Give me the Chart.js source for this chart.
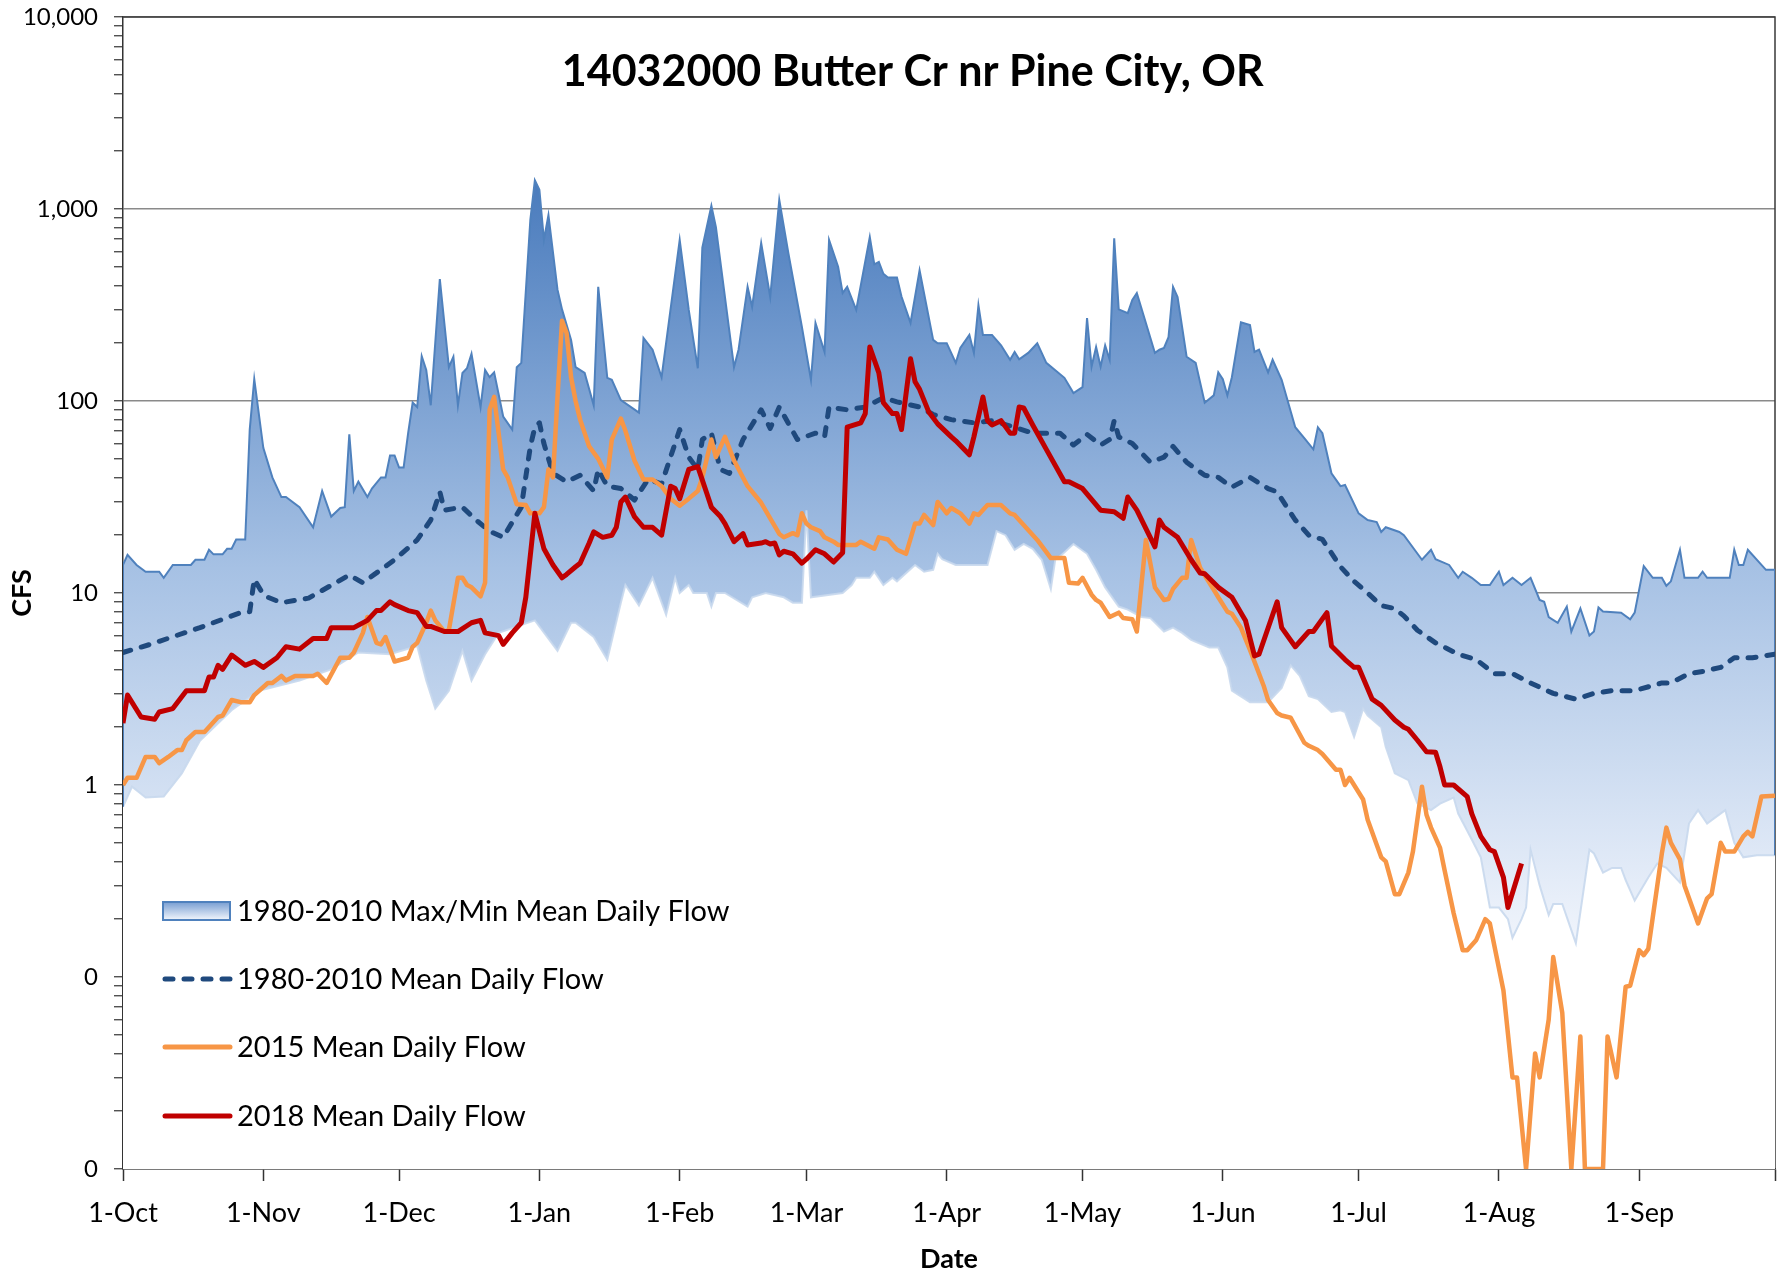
<!DOCTYPE html>
<html>
<head>
<meta charset="utf-8">
<title>14032000 Butter Cr nr Pine City, OR</title>
<script src="https://cdn.jsdelivr.net/npm/chart.js@4.4.1/dist/chart.umd.min.js"></script>
<style>
  html, body { margin: 0; padding: 0; background: #fff; }
  #wrap { width: 1784px; height: 1273px; }
</style>
</head>
<body>
<div id="wrap"><canvas id="flowChart" width="1784" height="1273"></canvas></div>
<script>
// x values are water-year days (0 = 1-Oct), y values are CFS
const chartTitle = '14032000 Butter Cr nr Pine City, OR';

const monthDays = [0, 31, 61, 92, 123, 151, 182, 212, 243, 273, 304, 335, 365];
const monthLabels = ['1-Oct', '1-Nov', '1-Dec', '1-Jan', '1-Feb', '1-Mar', '1-Apr', '1-May', '1-Jun', '1-Jul', '1-Aug', '1-Sep', ''];

const yDecades = [0.01, 0.1, 1, 10, 100, 1000, 10000];
const yDecadeLabels = ['0', '0', '1', '10', '100', '1,000', '10,000'];

const seriesNames = [
  '1980-2010 Max/Min Mean Daily Flow',
  '1980-2010 Mean Daily Flow',
  '2015 Mean Daily Flow',
  '2018 Mean Daily Flow'
];

// 1980-2010 max of mean daily flow
const maxFlow = [[0,14],[1,15.8],[3,14],[5,12.9],[8,12.9],[9,12],[11,14],[15,14],[16,14.9],[18,14.9],[19,16.8],[20,15.9],[22,15.9],[23,17],[24,17],[25,19],[27,19],[28,71],[29,130],[31,57],[33,40],[35,31.6],[36,31.6],[39,28],[42,22],[44,34],[46,25],[48,27.7],[49,28],[50,67],[51,34],[52,38],[54,31.6],[55,35],[57,40],[58,40],[59,52],[60,52],[61,45],[62,45],[63,68],[64,98],[65,93],[66,171],[67,145],[68,95],[70,431],[72,150],[73,170],[74,95],[75,140],[76,148],[77,176],[79,93],[80,145],[81,133],[82,141],[84,83],[86,71],[87,150],[88,158],[90,877],[91,1410],[92,1260],[93,690],[94,930],[96,380],[97,300],[99,208],[100,150],[102,140],[104,95],[105,393],[107,132],[108,129],[110,101],[114,87],[115,213],[117,185],[119,133],[123,690],[125,298],[127,148],[128,630],[130,1040],[131,805],[135,150],[136,185],[138,393],[139,309],[141,665],[143,348],[145,1115],[147,590],[150,243],[152,129],[153,255],[155,180],[156,690],[158,500],[159,365],[160,393],[162,298],[165,715],[166,515],[167,530],[168,460],[169,440],[171,440],[172,350],[174,255],[176,480],[179,208],[180,200],[182,200],[184,158],[185,189],[187,221],[188,178],[189,316],[190,221],[192,221],[194,195],[196,164],[197,180],[198,165],[200,178],[202,200],[204,158],[208,132],[210,110],[212,118],[213,270],[214,151],[215,191],[216,151],[217,195],[218,164],[219,703],[220,300],[222,287],[223,336],[224,365],[226,255],[228,178],[229,185],[230,189],[231,215],[232,393],[233,348],[235,170],[237,158],[239,98],[241,107],[242,141],[243,130],[244,107],[245,133],[247,257],[249,249],[250,180],[251,185],[253,141],[254,164],[256,129],[259,73],[261,64],[263,56],[264,73],[265,68],[267,42],[269,36],[270,36.5],[273,26],[275,24],[277,23.4],[278,20.8],[279,22],[282,20.8],[283,20],[287,14.9],[289,16.8],[290,15],[293,14],[295,12],[296,12.9],[298,12],[300,11],[302,11],[304,12.9],[305,11],[307,12],[309,11],[311,12],[313,9.2],[314,9],[315,7.5],[317,7],[319,8.5],[320,6.3],[322,8.3],[324,6],[325,6.3],[326,8.4],[327,8],[331,7.9],[333,7.3],[334,7.9],[336,13.8],[338,12],[340,12],[341,10.9],[342,11.5],[344,16.8],[345,12],[348,12],[349,12.9],[350,12],[355,12],[356,16.8],[357,14],[358,14],[359,16.8],[363,13.2],[365,13.2]];

// 1980-2010 min of mean daily flow
const minFlow = [[0,0.77],[2,0.98],[5,0.86],[9,0.87],[13,1.15],[17,1.7],[24,2.45],[30,3.1],[39,3.5],[46,4],[52,4.9],[59,4.8],[65,5.3],[67,3.5],[69,2.5],[72,3.1],[75,5],[77,3.5],[80,4.8],[83,6.2],[91,7.2],[96,5],[99,7],[100,7],[104,5.9],[107,4.5],[110,8.9],[111,11],[114,8.6],[117,12],[120,7.7],[122,12],[123,10],[125,11],[126,10],[129,10],[130,8.5],[131,10],[133,10],[138,8.5],[139,9.5],[142,10],[146,9.5],[148,8.9],[150,8.9],[151,27],[152,9.5],[159,10],[161,11],[162,12],[165,12],[166,12.9],[168,11],[170,12],[171,11.5],[175,14],[177,12.9],[179,13.2],[180,16],[181,15],[184,14],[191,14],[193,21],[195,20],[197,16.8],[199,18],[201,17],[203,14.9],[205,10.5],[206,15],[207,15.5],[210,18],[213,16],[215,13.2],[217,10.7],[220,8.5],[222,8.2],[225,7.5],[227,7.4],[230,6.3],[232,6.6],[234,6.2],[236,5.7],[240,5.2],[242,5.2],[244,4.1],[245,3.1],[249,2.7],[253,2.7],[256,3.2],[258,4.2],[260,3.7],[262,2.9],[264,2.8],[267,2.4],[269,2.45],[270,2.4],[272,1.78],[274,2.5],[275,2.3],[278,2],[279,1.58],[281,1.15],[284,1.06],[286,0.8],[289,0.74],[291,0.8],[294,0.86],[295,0.71],[298,0.52],[300,0.42],[302,0.23],[304,0.23],[306,0.2],[307,0.16],[309,0.2],[310,0.23],[311,0.46],[313,0.3],[315,0.21],[316,0.24],[318,0.24],[321,0.15],[324,0.46],[325,0.44],[327,0.35],[329,0.37],[331,0.37],[332,0.32],[334,0.25],[337,0.33],[339,0.39],[341,0.37],[344,0.31],[346,0.63],[348,0.74],[350,0.63],[354,0.74],[356,0.5],[358,0.42],[361,0.43],[365,0.43]];

// 1980-2010 mean daily flow
const meanFlow = [[0,4.9],[6,5.4],[17,6.6],[26,7.9],[28,8],[29,11.8],[31,9.8],[32,9.5],[35,8.9],[41,9.4],[50,12.4],[53,11.3],[60,14.9],[65,18.9],[68,24],[70,33.6],[71,27],[75,28],[78,24],[81,21],[84,19.5],[88,28],[90,58],[91,73],[92,77],[93,60],[95,42],[98,38],[101,41],[104,34],[105,44],[107,36],[110,35],[113,30.5],[116,39],[119,37],[123,71],[125,51],[127,44],[128,63],[130,68],[132,44],[134,42],[137,63],[141,90],[143,72],[145,93],[149,63],[153,68],[155,65],[156,93],[160,90],[164,93],[168,104],[171,99],[176,93],[179,85],[183,80],[188,77],[192,79],[197,73],[201,68],[207,68],[210,59],[213,67],[216,59],[218,63],[219,79],[220,65],[223,60],[227,48],[230,51],[232,58],[235,48],[239,41],[242,40],[245,35.6],[249,40],[253,35],[255,33.6],[259,24],[262,20],[265,19],[269,13.7],[272,11.5],[275,10],[278,8.6],[281,8.3],[283,7.6],[286,6.4],[290,5.5],[295,4.8],[299,4.5],[303,3.8],[307,3.8],[311,3.4],[316,3.0],[321,2.8],[325,3.0],[329,3.1],[334,3.1],[340,3.4],[342,3.4],[346,3.8],[349,3.9],[353,4.1],[356,4.6],[360,4.6],[365,4.8]];

// water year 2015
const flow2015 = [[0,1.0],[1,1.09],[3,1.09],[5,1.4],[7,1.4],[8,1.3],[10,1.4],[12,1.52],[13,1.52],[14,1.71],[16,1.89],[18,1.89],[21,2.26],[22,2.3],[24,2.77],[26,2.7],[28,2.7],[29,2.94],[32,3.4],[33,3.4],[35,3.7],[36,3.5],[38,3.7],[42,3.7],[43,3.8],[45,3.4],[48,4.6],[50,4.6],[51,4.9],[53,6.2],[54,7.5],[56,5.5],[57,5.4],[58,5.9],[60,4.4],[63,4.6],[64,5.25],[65,5.5],[67,7.0],[68,8.1],[69,7.2],[71,6.3],[72,6.4],[74,12],[75,12],[76,11],[77,10.7],[79,9.6],[80,11.3],[81,90],[82,105],[84,44],[85,40],[87,29],[89,28.7],[90,26],[92,26],[93,28],[94,44],[95,40],[96,105],[97,262],[98,226],[99,133],[100,100],[101,80],[103,58],[105,50],[107,40],[108,63],[110,81],[111,70],[113,49],[115,39],[117,39],[119,36],[121,31],[123,28.5],[125,31],[127,34],[128,40],[130,63],[131,51],[133,65],[135,49],[138,36],[141,29.5],[143,24.5],[145,20.3],[146,19.5],[148,20.5],[149,20],[150,26],[151,23],[152,22],[154,21],[155,19.5],[157,18.5],[158,17.8],[162,17.8],[163,18.5],[166,17],[167,19.5],[169,19],[171,16.8],[173,16],[175,23],[176,23],[177,25.5],[179,22.6],[180,29.8],[182,26],[183,27.7],[185,26],[187,23],[188,26],[189,25.5],[191,28.7],[194,28.7],[196,26],[197,25.5],[199,22.6],[202,18.9],[205,15.2],[208,15.2],[209,11.3],[211,11.2],[212,12],[214,9.8],[215,9.2],[216,8.9],[218,7.5],[220,7.9],[221,7.4],[223,7.3],[224,6.3],[226,18.9],[228,10.7],[230,9.2],[231,9.3],[232,10.5],[234,12],[235,12],[236,18.9],[238,13.5],[241,10.4],[242,9.5],[244,8],[245,7.8],[247,6.6],[249,5.05],[252,3.3],[253,2.77],[255,2.37],[256,2.3],[258,2.24],[261,1.66],[262,1.6],[264,1.52],[265,1.45],[268,1.2],[269,1.2],[270,1.0],[271,1.09],[274,0.84],[275,0.66],[278,0.42],[279,0.4],[281,0.27],[282,0.27],[284,0.35],[285,0.45],[287,0.98],[288,0.7],[289,0.6],[291,0.47],[292,0.36],[294,0.215],[296,0.138],[297,0.138],[299,0.156],[301,0.2],[302,0.19],[305,0.085],[307,0.03],[308,0.03],[310,0.01],[312,0.04],[313,0.03],[315,0.06],[316,0.127],[318,0.065],[320,0.01],[322,0.049],[323,0.01],[327,0.01],[328,0.049],[330,0.03],[332,0.089],[333,0.09],[335,0.138],[336,0.13],[337,0.14],[338,0.205],[340,0.44],[341,0.6],[342,0.5],[344,0.41],[345,0.3],[348,0.19],[350,0.257],[351,0.27],[353,0.5],[354,0.45],[356,0.45],[358,0.54],[359,0.57],[360,0.54],[362,0.87],[365,0.88]];

// water year 2018 (record ends early August)
const flow2018 = [[0,2.1],[1,2.94],[4,2.26],[7,2.2],[8,2.4],[11,2.5],[14,3.1],[16,3.1],[18,3.1],[19,3.65],[20,3.65],[21,4.2],[22,4.0],[24,4.75],[27,4.2],[29,4.4],[31,4.1],[34,4.6],[36,5.25],[39,5.1],[42,5.8],[45,5.8],[46,6.6],[48,6.6],[51,6.6],[54,7.2],[56,8.1],[57,8.1],[59,9.0],[60,8.7],[63,8.1],[65,7.9],[67,6.7],[68,6.7],[71,6.3],[74,6.3],[77,7.0],[79,7.2],[80,6.2],[83,6.0],[84,5.4],[86,6.2],[88,7.0],[89,9.5],[91,26],[93,17],[95,14],[97,12],[98,12.5],[100,13.7],[101,14.3],[103,18.2],[104,20.8],[106,19.5],[108,20],[109,22],[110,29.8],[111,31.6],[113,25],[115,22],[117,22],[119,20],[121,36],[122,35],[123,31],[125,44],[127,45.5],[129,33],[130,28],[132,25],[133,23],[135,18.5],[137,20.4],[138,17.8],[141,18.2],[142,18.5],[143,18],[144,18.2],[145,15.8],[146,16.5],[148,16],[150,14.3],[151,15],[153,16.8],[155,16],[157,14.5],[159,16.2],[160,73],[163,77],[164,86],[165,191],[167,140],[168,98],[170,86],[171,86],[172,71],[174,166],[175,126],[176,115],[178,88],[180,76],[183,65],[184,62],[187,52.5],[188,65],[190,105],[191,79],[192,75],[194,79],[196,68],[197,68],[198,93],[199,92],[201,75],[204,56],[208,38],[209,38],[212,35],[216,27],[219,26.5],[221,24.5],[222,31.6],[224,27],[228,17.4],[229,24],[230,22],[233,19.5],[236,14.9],[238,12.7],[239,12.6],[242,10.7],[245,9.5],[248,7.2],[250,4.7],[251,4.8],[255,9.0],[256,6.6],[259,5.25],[262,6.3],[263,6.3],[266,7.9],[267,5.3],[270,4.5],[272,4.1],[273,4.1],[276,2.8],[278,2.6],[281,2.18],[283,2.0],[284,1.95],[286,1.71],[288,1.49],[290,1.48],[291,1.24],[292,1.0],[294,1.0],[297,0.87],[298,0.71],[300,0.54],[302,0.46],[303,0.45],[305,0.33],[306,0.23],[309,0.39]];

const toPoints = (rows) => rows.map(([x, y]) => ({ x, y }));

// log-axis tick positions: 1..9 in every decade, labels only on the decades
const yTickValues = [];
for (let e = -2; e <= 3; e++) {
  for (let m = 1; m <= 9; m++) yTickValues.push(Number((m * Math.pow(10, e)).toPrecision(3)));
}
yTickValues.push(10000);

function decadeIndex(v) {
  return yDecades.findIndex(d => Math.abs(v - d) / d < 1e-6);
}

// the envelope's open ends are closed with short vertical edges
const firstMax = maxFlow[0], lastMax = maxFlow[maxFlow.length - 1];
const firstMin = minFlow[0], lastMin = minFlow[minFlow.length - 1];
const bandEdges = [
  { x: firstMax[0], y: firstMax[1] }, { x: firstMin[0], y: firstMin[1] },
  { x: 182, y: null },
  { x: lastMax[0], y: lastMax[1] }, { x: lastMin[0], y: lastMin[1] }
];

const BLUE = '#4f81bd';
const NAVY = '#1f497d';
const ORANGE = '#f79646';
const RED = '#c00000';
const FONT = 'Lato, "Open Sans", sans-serif';

function bandGradient(ctx, y0, y1) {
  const g = ctx.createLinearGradient(0, y0, 0, y1);
  g.addColorStop(0, 'rgb(72,122,188)');
  g.addColorStop(0.5, 'rgb(166,193,228)');
  g.addColorStop(1, 'rgb(244,247,253)');
  return g;
}

function bandFill(context) {
  const chart = context.chart;
  if (!chart.chartArea) return 'rgba(120,160,210,0.8)';
  const y = chart.scales.y;
  return bandGradient(chart.ctx, y.getPixelForValue(1500), y.getPixelForValue(0.12));
}

// top and right sides of the plot frame
const plotFrame = {
  id: 'plotFrame',
  beforeDatasetsDraw(chart) {
    const { ctx, chartArea: a } = chart;
    ctx.save();
    ctx.strokeStyle = '#3a3a3a';
    ctx.lineWidth = 1.5;
    ctx.beginPath();
    ctx.moveTo(a.left, a.top);
    ctx.lineTo(a.right, a.top);
    ctx.lineTo(a.right, a.bottom);
    ctx.stroke();
    ctx.restore();
  }
};

// title, axis titles and the legend box inside the plot
const chartText = {
  id: 'chartText',
  afterDraw(chart) {
    const { ctx, chartArea: a } = chart;
    const w = a.right - a.left;
    ctx.save();
    ctx.fillStyle = '#000';
    ctx.textBaseline = 'middle';

    ctx.textAlign = 'center';
    ctx.font = 'bold 43px ' + FONT;
    ctx.fillText(chartTitle, a.left + w * 0.478, 72);

    ctx.font = 'bold 27px ' + FONT;
    ctx.fillText('Date', a.left + w / 2, 1259);

    ctx.save();
    ctx.translate(22, 593);
    ctx.rotate(-Math.PI / 2);
    ctx.fillText('CFS', 0, 0);
    ctx.restore();

    // legend
    const sx = a.left + 40, sw = 67, tx = a.left + 114;
    const rows = [911, 979, 1047, 1116];
    ctx.textAlign = 'left';
    ctx.font = '29px ' + FONT;

    const g = ctx.createLinearGradient(0, rows[0] - 9, 0, rows[0] + 9);
    g.addColorStop(0, 'rgb(120,158,210)');
    g.addColorStop(1, 'rgb(242,246,252)');
    ctx.fillStyle = g;
    ctx.fillRect(sx, rows[0] - 9, sw, 18);
    ctx.strokeStyle = BLUE;
    ctx.lineWidth = 2;
    ctx.strokeRect(sx, rows[0] - 9, sw, 18);

    ctx.lineCap = 'round';
    ctx.lineWidth = 5;
    ctx.strokeStyle = NAVY;
    ctx.setLineDash([8, 11]);
    ctx.beginPath();
    ctx.moveTo(sx + 2, rows[1]);
    ctx.lineTo(sx + sw, rows[1]);
    ctx.stroke();
    ctx.setLineDash([]);

    [[ORANGE, rows[2]], [RED, rows[3]]].forEach(([c, y]) => {
      ctx.strokeStyle = c;
      ctx.beginPath();
      ctx.moveTo(sx + 2, y);
      ctx.lineTo(sx + sw, y);
      ctx.stroke();
    });

    ctx.fillStyle = '#000';
    seriesNames.forEach((name, i) => ctx.fillText(name, tx, rows[i] + 1));
    ctx.restore();
  }
};

function drawChart() {
  Chart.defaults.font.family = FONT;
  Chart.defaults.color = '#000';

  new Chart(document.getElementById('flowChart'), {
    type: 'line',
    data: {
      datasets: [
        {
          label: seriesNames[3], data: toPoints(flow2018), order: 1,
          borderColor: RED, borderWidth: 5, borderJoinStyle: 'round', fill: false
        },
        {
          label: seriesNames[2], data: toPoints(flow2015), order: 2,
          borderColor: ORANGE, borderWidth: 4.5, borderJoinStyle: 'round', fill: false
        },
        {
          label: seriesNames[1], data: toPoints(meanFlow), order: 3,
          borderColor: NAVY, borderWidth: 5, borderDash: [8, 11], borderCapStyle: 'round',
          borderJoinStyle: 'round', fill: false
        },
        {
          label: 'edges', data: bandEdges, order: 4,
          borderColor: BLUE, borderWidth: 2, fill: false, spanGaps: false
        },
        {
          label: 'min', data: toPoints(minFlow), order: 5,
          borderColor: 'rgba(200,216,237,0.9)', borderWidth: 2,
          backgroundColor: '#ffffff', fill: 'start'
        },
        {
          label: seriesNames[0], data: toPoints(maxFlow), order: 6,
          borderColor: BLUE, borderWidth: 2,
          backgroundColor: bandFill, fill: 'start'
        }
      ]
    },
    options: {
      responsive: false,
      animation: false,
      devicePixelRatio: 1,
      events: [],
      layout: { padding: { left: 0, top: 17, right: 9, bottom: 0 } },
      elements: { point: { radius: 0 }, line: { tension: 0 } },
      plugins: { legend: { display: false }, tooltip: { enabled: false }, title: { display: false } },
      scales: {
        x: {
          type: 'linear', min: 0, max: 365,
          afterBuildTicks: (scale) => { scale.ticks = monthDays.map(v => ({ value: v })); },
          afterFit: (scale) => {
            scale.height = 104;
            scale.paddingLeft = 0;
            scale.paddingRight = 0;
          },
          ticks: {
            autoSkip: false, maxRotation: 0, padding: 16,
            font: { size: 27 }, color: '#000',
            callback: (v) => { const i = monthDays.indexOf(v); return i < 0 ? '' : monthLabels[i]; }
          },
          grid: { drawOnChartArea: false, tickColor: '#333', tickLength: 12, tickWidth: 1.5 },
          border: { color: '#333', width: 1.5 }
        },
        y: {
          type: 'logarithmic', min: 0.01, max: 10000,
          afterBuildTicks: (scale) => { scale.ticks = yTickValues.map(v => ({ value: v })); },
          afterFit: (scale) => {
            scale.width = 123;
            scale.paddingTop = 0;
            scale.paddingBottom = 0;
          },
          ticks: {
            autoSkip: false, padding: 16,
            font: { size: 24 }, color: '#000',
            callback: (v) => { const i = decadeIndex(v); return i < 0 ? '' : yDecadeLabels[i]; }
          },
          grid: {
            color: (c) => (c.tick && decadeIndex(c.tick.value) >= 0 ? '#8a8a8a' : 'rgba(0,0,0,0)'),
            lineWidth: 1.5,
            tickColor: '#333', tickLength: 9, tickWidth: 1.2
          },
          border: { color: '#333', width: 1.5 }
        }
      }
    },
    plugins: [plotFrame, chartText]
  });
}

Promise.all([
  document.fonts.load('29px Lato'),
  document.fonts.load('bold 43px Lato')
]).then(drawChart, drawChart);
</script>
</body>
</html>
